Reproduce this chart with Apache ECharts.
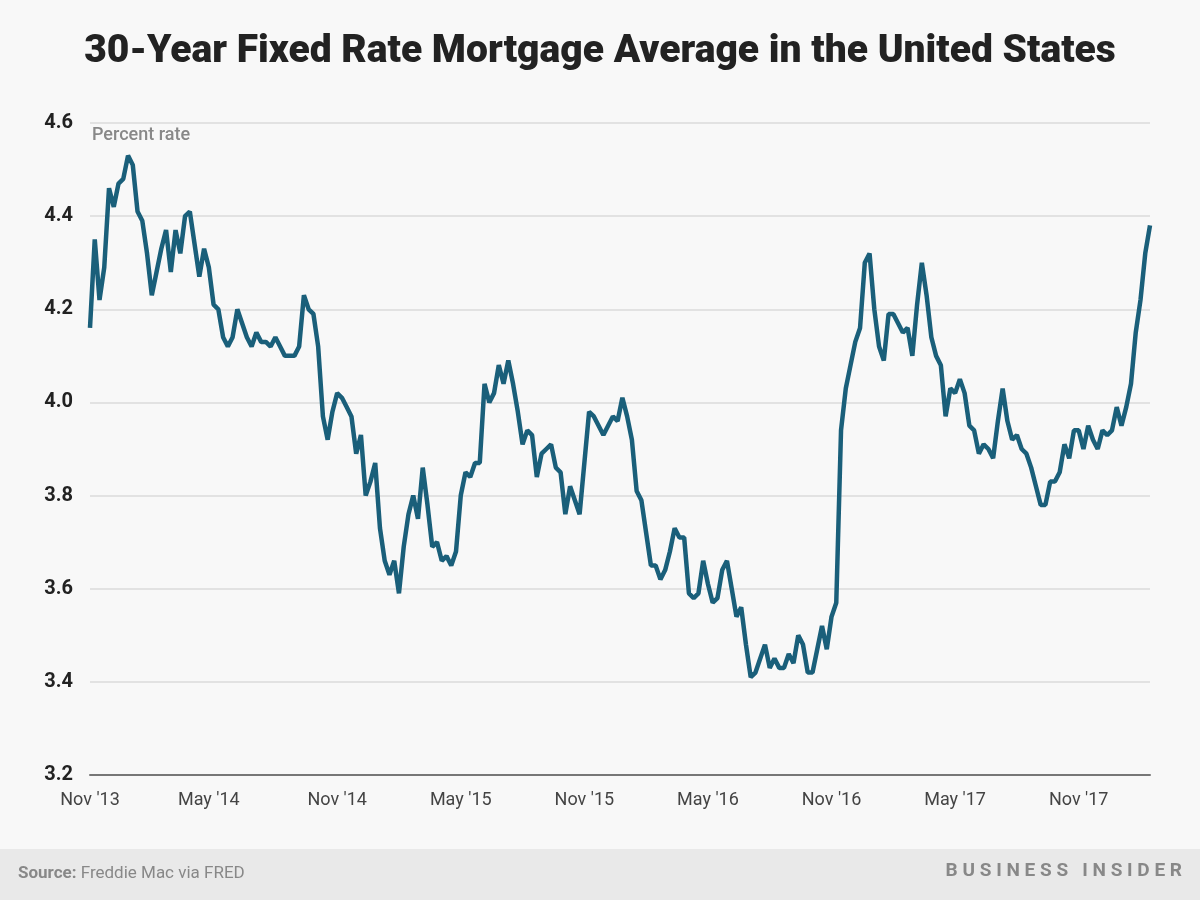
<!DOCTYPE html>
<html><head><meta charset="utf-8">
<script src="https://cdn.jsdelivr.net/npm/echarts@6/dist/echarts.min.js"></script>
<style>html,body{margin:0;padding:0;background:#f8f8f8}#c{width:1200px;height:900px}</style>
</head><body><div id="c"></div>
<script>
const startDate = '2013-11-07';
const tickLabels = {"2013-11-07":"Nov '13","2014-05-01":"May '14","2014-11-06":"Nov '14","2015-05-07":"May '15","2015-11-05":"Nov '15","2016-05-05":"May '16","2016-11-03":"Nov '16","2017-05-04":"May '17","2017-11-02":"Nov '17"};
const rates = [
4.16,4.35,4.22,4.29,4.46,4.42,4.47,4.48,
4.53,4.51,4.41,4.39,4.32,4.23,4.28,4.33,4.37,4.28,4.37,4.32,4.40,4.41,4.34,4.27,4.33,4.29,4.21,4.20,4.14,4.12,4.14,4.20,4.17,4.14,4.12,4.15,4.13,4.13,4.12,4.14,4.12,4.10,4.10,4.10,4.12,4.23,4.20,4.19,4.12,3.97,3.92,3.98,4.02,4.01,3.99,3.97,3.89,3.93,3.80,3.83,3.87,
3.73,3.66,3.63,3.66,3.59,3.69,3.76,3.80,3.75,3.86,3.78,3.69,3.70,3.66,3.67,3.65,3.68,3.80,3.85,3.84,3.87,3.87,4.04,4.00,4.02,4.08,4.04,4.09,4.04,3.98,3.91,3.94,3.93,3.84,3.89,3.90,3.91,3.86,3.85,3.76,3.82,3.79,3.76,3.87,3.98,3.97,3.95,3.93,3.95,3.97,3.96,4.01,
3.97,3.92,3.81,3.79,3.72,3.65,3.65,3.62,3.64,3.68,3.73,3.71,3.71,3.59,3.58,3.59,3.66,3.61,3.57,3.58,3.64,3.66,3.60,3.54,3.56,3.48,3.41,3.42,3.45,3.48,3.43,3.45,3.43,3.43,3.46,3.44,3.50,3.48,3.42,3.42,3.47,3.52,3.47,3.54,3.57,3.94,4.03,4.08,4.13,4.16,4.30,4.32,
4.20,4.12,4.09,4.19,4.19,4.17,4.15,4.16,4.10,4.21,4.30,4.23,4.14,4.10,4.08,3.97,4.03,4.02,4.05,4.02,3.95,3.94,3.89,3.91,3.90,3.88,3.96,4.03,3.96,3.92,3.93,3.90,3.89,3.86,3.82,3.78,3.78,3.83,3.83,3.85,3.91,3.88,3.94,3.94,3.90,3.95,3.92,3.90,3.94,3.93,3.94,3.99,
3.95,3.99,4.04,4.15,4.22,4.32,4.38];
const dates = [];
{ const d0 = new Date(startDate + 'T00:00:00Z');
  for (let i = 0; i < rates.length; i++) { const d = new Date(d0.getTime() + i*7*86400000); dates.push(d.toISOString().slice(0,10)); } }
const c = echarts.init(document.getElementById('c'));
c.setOption({
  backgroundColor:'#f8f8f8',
  animation:false,
  title:{text:'30-Year Fixed Rate Mortgage Average in the United States',left:'center',top:28,
    textStyle:{fontFamily:'Roboto',fontWeight:900,fontSize:39,color:'#222'}},
  graphic:[
    {type:'rect',shape:{x:0,y:849,width:1200,height:51},style:{fill:'#e9e9e9'}},
    {type:'text',left:18,top:865,style:{text:'{b|Source:} Freddie Mac via FRED',rich:{b:{fontWeight:'bold',fontFamily:'Roboto',fontSize:17,fill:'#888'}},fontFamily:'Roboto',fontSize:17,fill:'#888'}},
    {type:'text',right:18,top:862,style:{text:'B U S I N E S S   I N S I D E R',fontFamily:'Roboto',fontSize:19,fontWeight:'bold',fill:'#888'}},
    {type:'text',left:92,top:126,style:{text:'Percent rate',fontFamily:'Roboto',fontSize:18,fontWeight:'500',fill:'#888'}}
  ],
  grid:{left:90,right:50,top:123,bottom:125},
  xAxis:{type:'category',data:dates,boundaryGap:false,
    axisLine:{lineStyle:{color:'#777',width:2}},axisTick:{show:false},
    axisLabel:{interval:(i,v)=>tickLabels[v]!==undefined,formatter:v=>tickLabels[v]||'',
      color:'#444',fontFamily:'Roboto',fontSize:18,margin:16}},
  yAxis:{type:'value',min:3.2,max:4.6,interval:0.2,
    axisLine:{show:false},axisTick:{show:false},
    splitLine:{lineStyle:{color:'#e2e2e2',width:2}},
    axisLabel:{formatter:v=>v.toFixed(1),color:'#222',fontFamily:'Roboto',fontWeight:'bold',fontSize:20,margin:17}},
  series:[{type:'line',data:rates,showSymbol:false,lineStyle:{color:'#1a5f7a',width:4.5},itemStyle:{color:'#1a5f7a'}}]
});
</script></body></html>
